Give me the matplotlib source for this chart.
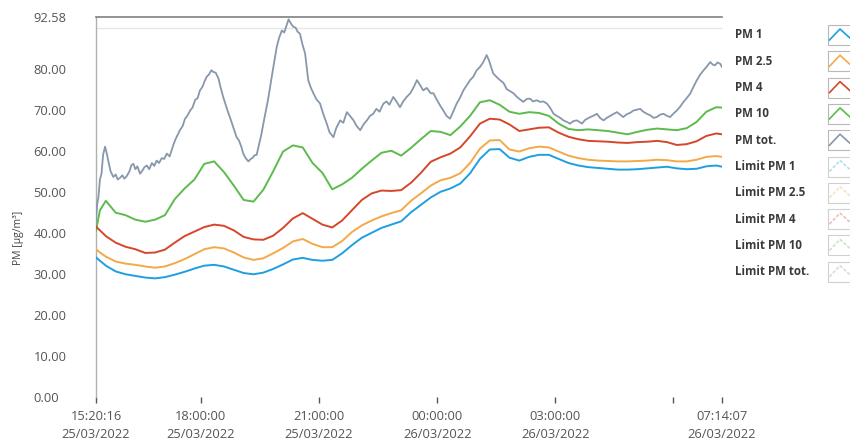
import numpy as np
import pandas as pd
import matplotlib
matplotlib.use('Agg')
import matplotlib.pyplot as plt
from matplotlib.lines import Line2D
from matplotlib.patches import Rectangle

plt.rcParams['font.family'] = ['Open Sans', 'DejaVu Sans']

# sample times (hours after 15:20:16)
hrs = np.r_[0, 0.1, np.arange(0.25, 15.8, 0.25), 15.898]

pm1 = [34.0, 33.2, 32.0, 30.6, 29.9, 29.5, 29.1, 28.9, 29.2, 29.8, 30.5, 31.3, 32.0, 32.2,
       31.8, 31.0, 30.2, 29.9, 30.3, 31.2, 32.3, 33.5, 33.9, 33.4, 33.2, 33.4, 35.0, 37.0,
       38.8, 40.0, 41.2, 42.0, 42.8, 45.0, 46.8, 48.6, 50.0, 50.8, 52.0, 54.5, 58.0, 60.3,
       60.4, 58.3, 57.6, 58.5, 59.0, 59.0, 58.0, 57.0, 56.4, 56.0, 55.8, 55.6, 55.4, 55.4,
       55.5, 55.7, 55.9, 56.1, 55.7, 55.5, 55.6, 56.2, 56.4, 56.1]
pm25 = [36.0, 35.2, 34.2, 33.0, 32.5, 32.2, 31.8, 31.5, 31.8, 32.6, 33.6, 34.8, 36.0, 36.5,
        36.2, 35.2, 34.0, 33.4, 33.8, 35.0, 36.3, 37.9, 38.5, 37.3, 36.5, 36.5, 38.0, 40.2,
        41.8, 43.0, 44.0, 44.8, 45.5, 47.8, 49.6, 51.5, 52.8, 53.4, 54.5, 57.0, 60.5, 62.5,
        62.6, 60.3, 59.8, 60.6, 61.0, 60.8, 59.8, 58.8, 58.2, 57.8, 57.6, 57.5, 57.4, 57.4,
        57.5, 57.6, 57.8, 57.7, 57.4, 57.4, 57.8, 58.5, 58.7, 58.5]
pm4 = [41.5, 40.6, 39.2, 37.6, 36.6, 36.0, 35.1, 35.2, 35.9, 37.6, 39.2, 40.3, 41.4, 42.0,
       41.7, 40.6, 39.0, 38.4, 38.3, 39.3, 41.2, 43.5, 44.8, 43.4, 42.0, 41.3, 43.0, 45.5,
       48.0, 49.6, 50.3, 50.2, 50.4, 52.2, 54.6, 57.3, 58.4, 59.3, 60.8, 63.5, 66.6, 67.8,
       67.6, 66.4, 64.8, 65.2, 65.6, 65.7, 64.4, 63.4, 62.8, 62.4, 62.3, 62.2, 62.0, 61.9,
       62.1, 62.2, 62.4, 62.1, 61.4, 61.6, 62.3, 63.6, 64.2, 64.0]
pm10 = [40.5, 45.5, 47.8, 44.9, 44.3, 43.2, 42.7, 43.2, 44.3, 48.2, 50.8, 53.0, 56.8, 57.4,
        54.8, 51.5, 48.0, 47.6, 50.5, 55.0, 59.8, 61.3, 60.8, 57.0, 54.6, 50.6, 51.8, 53.4,
        55.6, 57.6, 59.5, 60.0, 58.8, 60.7, 62.8, 64.8, 64.6, 63.8, 65.9, 68.5, 71.8, 72.3,
        71.2, 69.5, 69.0, 69.4, 69.2, 68.5, 66.6, 65.3, 65.0, 65.2, 65.0, 64.8, 64.4, 64.0,
        64.6, 65.1, 65.4, 65.2, 65.0, 65.5, 67.0, 69.5, 70.6, 70.5]

tot_hrs = [0.0, 0.03, 0.06, 0.1, 0.14, 0.18, 0.23, 0.27, 0.31, 0.37, 0.44, 0.5, 0.55, 0.61,
           0.67, 0.72, 0.78, 0.85, 0.9, 0.95, 1.0, 1.05, 1.12, 1.18, 1.23, 1.29, 1.35, 1.42,
           1.48, 1.54, 1.6, 1.67, 1.73, 1.8, 1.87, 1.96, 2.02, 2.08, 2.13, 2.2, 2.26, 2.32,
           2.39, 2.45, 2.52, 2.58, 2.64, 2.7, 2.76, 2.81, 2.87, 2.93, 2.98, 3.04, 3.11, 3.17,
           3.23, 3.3, 3.35, 3.4, 3.46, 3.52, 3.57, 3.63, 3.69, 3.74, 3.8, 3.87, 3.93, 3.98,
           4.03, 4.08, 4.14, 4.2, 4.25, 4.31, 4.37, 4.42, 4.48, 4.54, 4.59, 4.65, 4.72, 4.78,
           4.84, 4.89, 4.95, 5.01, 5.07, 5.12, 5.18, 5.24, 5.31, 5.39, 5.45, 5.52, 5.6, 5.69,
           5.77, 5.86, 5.93, 6.03, 6.1, 6.2, 6.28, 6.37, 6.45, 6.54, 6.62, 6.71, 6.8, 6.88,
           6.96, 7.04, 7.12, 7.2, 7.3, 7.38, 7.45, 7.55, 7.63, 7.72, 7.8, 7.88, 7.98, 8.07,
           8.15, 8.23, 8.31, 8.4, 8.5, 8.57, 8.65, 8.74, 8.82, 8.9, 8.99, 9.07, 9.16, 9.25,
           9.33, 9.42, 9.5, 9.58, 9.66, 9.75, 9.83, 9.92, 9.98, 10.04, 10.09, 10.17, 10.26,
           10.35, 10.43, 10.52, 10.6, 10.69, 10.77, 10.85, 10.94, 11.02, 11.1, 11.19, 11.28,
           11.36, 11.45, 11.53, 11.62, 11.7, 11.79, 11.87, 11.96, 12.04, 12.12, 12.21, 12.28,
           12.34, 12.42, 12.55, 12.63, 12.72, 12.8, 12.89, 12.97, 13.06, 13.15, 13.23, 13.31,
           13.39, 13.48, 13.56, 13.65, 13.74, 13.82, 13.9, 13.99, 14.08, 14.16, 14.24, 14.33,
           14.41, 14.5, 14.58, 14.66, 14.75, 14.84, 14.92, 15.0, 15.09, 15.17, 15.26, 15.34,
           15.43, 15.51, 15.6, 15.66, 15.72, 15.78, 15.85, 15.898]
pm_tot = [43.0, 47.0, 48.5, 53.0, 54.4, 59.0, 61.0, 59.5, 57.6, 55.0, 53.6, 54.2, 53.0, 53.4,
          54.0, 53.2, 53.8, 55.0, 56.5, 56.8, 55.5, 56.2, 54.4, 55.2, 56.0, 56.4, 55.5, 57.0,
          56.3, 57.6, 57.0, 58.2, 58.0, 59.3, 58.6, 61.3, 62.8, 64.0, 65.0, 66.0, 67.8, 68.5,
          69.8, 70.5, 72.4, 72.8, 74.7, 75.5, 77.0, 78.0, 78.6, 79.6, 79.2, 79.0, 77.6, 75.2,
          73.1, 71.0, 69.5, 68.2, 66.5, 64.8, 63.3, 62.5, 61.0, 59.3, 58.2, 57.4, 58.0, 58.3,
          58.9, 59.0, 61.5, 64.0, 66.6, 69.5, 72.5, 75.5, 79.0, 82.5, 85.3, 87.5, 89.3, 88.8,
          90.5, 92.0, 91.0, 90.2, 90.0, 89.0, 88.5, 86.0, 83.7, 77.2, 75.5, 74.0, 72.5, 71.5,
          69.0, 66.6, 64.5, 63.3, 65.5, 67.4, 66.8, 69.4, 68.5, 67.4, 66.0, 65.0, 66.5, 67.4,
          68.5, 69.0, 70.2, 69.5, 71.5, 72.0, 71.2, 73.1, 72.0, 70.6, 72.0, 73.0, 74.0, 75.5,
          77.2, 76.0, 74.7, 75.3, 74.0, 74.0, 72.5, 71.0, 69.8, 68.5, 67.8, 69.5, 71.5, 73.0,
          74.7, 76.0, 77.2, 78.0, 79.5, 80.4, 81.5, 83.3, 82.0, 80.2, 78.8, 78.0, 77.2,
          76.5, 75.0, 74.5, 74.0, 73.1, 72.5, 71.9, 72.6, 72.7, 72.0, 72.3, 71.9,
          72.0, 71.5, 70.5, 69.0, 68.5, 68.0, 67.4, 67.0, 66.6, 67.2, 67.4, 67.0,
          66.6, 67.5, 68.2, 68.5, 69.0, 68.0, 67.4, 68.0, 68.5, 69.0, 69.4, 68.8,
          68.2, 68.9, 69.2, 69.8, 70.0, 70.2, 69.5, 69.0, 68.6, 68.0, 68.2, 68.8,
          69.0, 68.5, 68.2, 69.0, 69.8, 70.8, 71.9, 72.8, 73.9, 75.5, 77.2, 78.5,
          79.6, 80.5, 81.6, 81.0, 80.8, 81.5, 81.2, 80.4]

names = ['PM 1', 'PM 2.5', 'PM 4', 'PM 10', 'PM tot.',
         'Limit PM 1', 'Limit PM 2.5', 'Limit PM 4', 'Limit PM 10', 'Limit PM tot.']
colors = ['#1f9fe0', '#f4a948', '#d4472b', '#5cbb4c', '#8797ac']

y_max = 92.58
start = pd.Timestamp('2022-03-25 15:20:16')
end = pd.Timestamp('2022-03-26 07:14:07')
tick_times = [start, pd.Timestamp('2022-03-25 18:00:00'), pd.Timestamp('2022-03-25 21:00:00'),
              pd.Timestamp('2022-03-26 00:00:00'), pd.Timestamp('2022-03-26 03:00:00'),
              pd.Timestamp('2022-03-26 06:00:00'), end]

t = start + pd.to_timedelta(hrs, unit='h')
t_tot = start + pd.to_timedelta(tot_hrs, unit='h')

W, H = 850, 446
fig = plt.figure(figsize=(W / 100, H / 100), dpi=100)
ax = fig.add_axes([96 / W, 1 - 397 / H, (722 - 96) / W, (397 - 17) / H])

series = [pm1, pm25, pm4, pm10]
ax.plot(t_tot, pm_tot, color=colors[4], lw=1.3, zorder=3)
for vals, c in zip(series[::-1], colors[3::-1]):
    ax.plot(t, vals, color=c, lw=1.4, zorder=4)

ax.set_xlim(start, end)
ax.set_ylim(0, y_max)

yt = [0, 10, 20, 30, 40, 50, 60, 70, 80, y_max]
ax.set_yticks(yt)
ax.set_yticklabels(['%.2f' % v for v in yt])
ax.set_yticks([10, 20, 30, 40, 50, 60, 70, 80, 90], minor=True)
ax.grid(which='minor', axis='y', color='#e6e6e6', lw=1)
ax.grid(which='major', visible=False)
for lb in ax.get_yticklabels():
    lb.set_horizontalalignment('left')
ax.tick_params(axis='y', which='both', length=0, pad=45, labelsize=9.3, labelcolor='#555555')

ax.set_xticks(tick_times)
ax.set_xticklabels([ts.strftime('%H:%M:%S\n%d/%m/%Y') if i != 5 else ''
                    for i, ts in enumerate(tick_times)], linespacing=1.55)
ax.tick_params(axis='x', length=4, width=1, color='#555555', pad=5, labelsize=9.3,
               labelcolor='#555555', direction='out')
ax.xaxis.set_tick_params(which='minor', length=0)

for s in ['right', 'bottom']:
    ax.spines[s].set_visible(False)
ax.spines['top'].set_color('#808080')
ax.spines['top'].set_linewidth(1.2)
ax.spines['left'].set_color('#b0b0b0')
ax.spines['left'].set_linewidth(1)

fig.text(18 / W, 1 - 238 / H, 'PM [µg/m³]', rotation=90, ha='center', va='center',
         fontsize=7.5, color='#444444')

# legend column on the right
for i, nm in enumerate(names):
    yc = 35 + i * 26.3
    fig.text(735 / W, 1 - yc / H, nm, ha='left', va='center', fontsize=8.3,
             fontweight='bold', color='#3a3a3a')
    c = colors[i % 5]
    faded = i >= 5
    fig.add_artist(Rectangle((828 / W, 1 - (yc + 10) / H), 30 / W, 20 / H,
                             transform=fig.transFigure, facecolor='white',
                             edgecolor='#d0d0d0' if faded else '#b8b8b8', lw=0.8))
    fig.add_artist(Line2D([829.5 / W, 840 / W, 851 / W],
                          [1 - (yc + 5) / H, 1 - (yc - 6) / H, 1 - (yc + 4) / H],
                          transform=fig.transFigure, color=c, lw=1.2,
                          alpha=0.35 if faded else 1.0, ls=(0, (2, 1)) if faded else '-'))

fig.savefig('out.png', dpi=100)
